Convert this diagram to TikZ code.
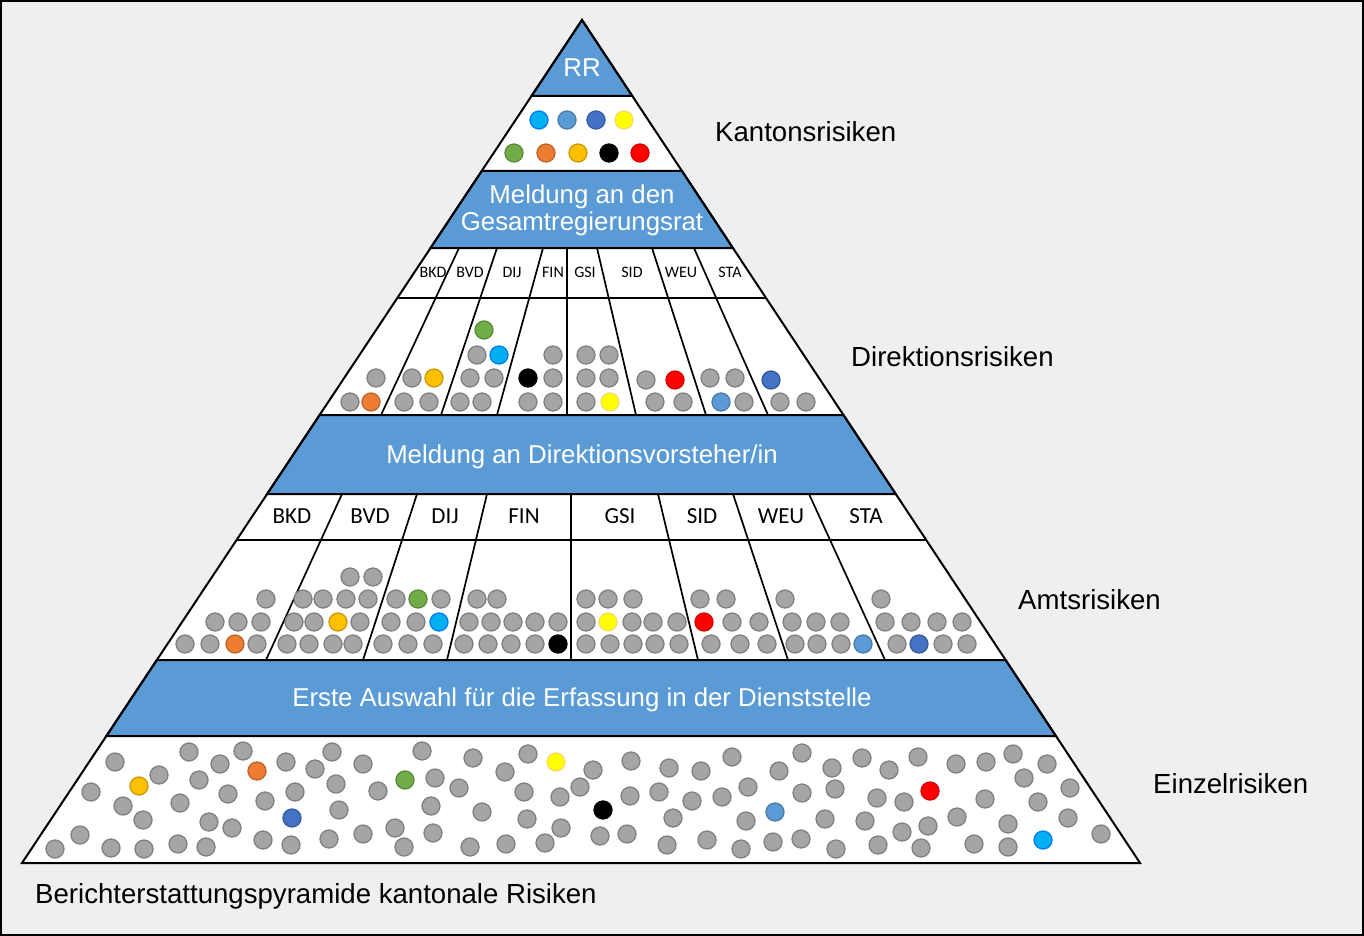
\documentclass[tikz,border=0pt]{standalone}
\usepackage{fontspec}
\setmainfont{Liberation Sans}
\newfontfamily\calibri{Carlito}
\definecolor{bandblue}{HTML}{5B9BD5}
\definecolor{bggray}{RGB}{238,239,241}
\definecolor{dotgray}{HTML}{A5A5A5}
\definecolor{dcyan}{HTML}{00B0F0}
\definecolor{dlblue}{HTML}{5B9BD5}
\definecolor{dblue}{HTML}{4472C4}
\definecolor{dyellow}{HTML}{FFFF00}
\definecolor{dgreen}{HTML}{70AD47}
\definecolor{dorange}{HTML}{ED7D31}
\definecolor{dgold}{HTML}{FFC000}
\definecolor{dblack}{HTML}{000000}
\definecolor{dred}{HTML}{FF0000}
\colorlet{dotgrayline}{dotgray!78!black}
\colorlet{dcyanline}{dcyan!70!blue}
\colorlet{dlblueline}{dlblue!80!black}
\colorlet{dblueline}{dblue!80!black}
\colorlet{dyellowline}{dgold!60!white}
\colorlet{dgreenline}{dgreen!80!black}
\colorlet{dorangeline}{dorange!80!black}
\colorlet{dgoldline}{dgold!80!black}
\colorlet{dblackline}{black}
\colorlet{dredline}{dred!85!black}
\tikzset{
  band/.style={fill=bandblue,draw=black,line width=2pt},
  divider/.style={line width=1.7pt},
  bandtext/.style={text=white,font=\fontsize{25.8}{27}\selectfont,align=center,inner sep=0pt},
  sidetext/.style={anchor=base west,inner sep=0pt,font=\fontsize{27.6}{30}\selectfont},
  smalltag/.style={anchor=base,inner sep=0pt,font=\calibri\fontsize{16}{18}\selectfont},
  bigtag/.style={anchor=base,inner sep=0pt,font=\calibri\fontsize{23}{25}\selectfont},
  risk/.style={fill=#1,draw=#1line,line width=1.3pt},
  risk/.default=dotgray
}
\begin{document}
\begin{tikzpicture}[x=1pt,y=-1pt]
\useasboundingbox (0,0) rectangle (1364,936);
\draw[line width=2pt,fill=bggray](1,1) rectangle (1363,935);
%pyramid
\coordinate (apex) at (582,20);
\coordinate (bl) at (22,863);
\coordinate (br) at (1140,863);
\fill[white](apex)--(br)--(bl)--cycle;
%bands
\draw[band](apex)--(632.3,96)--(531.5,96)--cycle;
\draw[band](481.7,171)--(682,171)--(732.9,248)--(430.5,248)--cycle;
\draw[band](319.6,415)--(843.5,415)--(895.7,494)--(267.1,494)--cycle;
\draw[band](156.8,660)--(1005.6,660)--(1055.9,736)--(106.4,736)--cycle;
\draw[divider](397.3,298)--(766,298);
\draw[divider](236.6,540)--(926.2,540);
%dividers
\foreach \a/\b in {459/381,497/441,543/497,567/567,597/636,652/706,694/768}{
\draw[divider](\a,248)--(\b,415);
}
\foreach \a/\b in {342/266,417/363,487/447,571/571,658/698,733/788,809/885}{
\draw[divider](\a,494)--(\b,660);
}
\draw[line width=2pt](apex)--(br)--(bl)--cycle;
%dots Kanton
\foreach \x/\y/\c in {539/120/dcyan,567/120/dlblue,596/120/dblue,624/120/dyellow,
514/153/dgreen,546/153/dorange,578/153/dgold,609/153/dblack,640/153/dred}{
\filldraw[risk=\c](\x,\y) circle[radius=9pt];
}
%dots Direktion
\foreach \x/\y in {376/378,350/402,412/378,404/402,429/402,
477/355,470/378,494/378,460/402,482/402,553/355,553/378,528/402,553/402,
586/355,609/355,586/378,609/378,586/402,646/380,655/402,683/402,
710/378,735/378,744/402,780/402,806/402}{
\filldraw[risk](\x,\y) circle[radius=9pt];
}
\foreach \x/\y/\c in {371/402/dorange,434/378/dgold,484/330/dgreen,499/355/dcyan,
528/378/dblack,610/402/dyellow,675/380/dred,721/402/dlblue,771/380/dblue}{
\filldraw[risk=\c](\x,\y) circle[radius=9pt];
}
%dots Amt
\foreach \x/\y in {266/599,215/622,238/622,261/622,185/644,210/644,257/644,
350/577,373/577,303/599,323/599,346/599,368/599,294/622,314/622,360/622,
287/644,309/644,333/644,353/644,
396/599,441/599,391/622,416/622,383/644,408/644,433/644,
477/599,497/599,469/622,491/622,513/622,535/622,558/622,464/644,488/644,511/644,535/644,
586/599,608/599,633/599,586/622,632/622,653/622,677/622,586/644,610/644,633/644,655/644,679/644,
700/599,726/599,732/622,759/622,711/644,740/644,767/644,
785/599,792/622,816/622,840/622,795/644,817/644,841/644,
881/599,885/622,911/622,937/622,962/622,897/644,943/644,967/644}{
\filldraw[risk](\x,\y) circle[radius=9pt];
}
\foreach \x/\y/\c in {235/644/dorange,338/622/dgold,418/599/dgreen,439/622/dcyan,
558/644/dblack,608/622/dyellow,704/622/dred,863/644/dlblue,919/644/dblue}{
\filldraw[risk=\c](\x,\y) circle[radius=9pt];
}
%dots Einzel
\foreach \x/\y in {115/762,91/792,159/775,123/806,143/820,80/835,55/849,111/848,144/849,
189/752,199/780,180/803,209/822,178/844,206/847,220/764,243/751,228/794,232/828,265/801,
286/762,295/792,263/840,291/845,315/769,332/752,336/784,339/810,329/839,
363/764,378/791,363/834,395/828,404/847,422/751,435/778,459/788,431/806,433/833,
473/758,482/812,470/847,505/772,528/754,524/792,527/819,506/844,545/843,
560/797,561/828,580/787,593/770,600/836,627/834,631/761,630/796,659/792,669/768,673/818,667/845,
692/801,701/771,707/840,722/797,732/757,748/787,746/821,741/849,
779/771,773/842,801/839,802/753,802/793,832/768,835/789,825/819,836/849,
862/758,877/798,865/821,878/845,889/770,904/802,902/832,918/757,928/826,921/848,
956/764,957/817,974/844,986/762,985/799,1008/824,1008/847,
1013/754,1024/778,1038/802,1047/764,1070/788,1068/818,1101/834}{
\filldraw[risk](\x,\y) circle[radius=9pt];
}
\foreach \x/\y/\c in {139/786/dgold,257/771/dorange,292/818/dblue,405/780/dgreen,
556/762/dyellow,603/810/dblack,775/812/dlblue,930/791/dred,1043/840/dcyan}{
\filldraw[risk=\c](\x,\y) circle[radius=9pt];
}
%labels
\node[bandtext,anchor=base](rr)at(582,77){RR};
\node[bandtext](gesamt)at(582,210){Meldung an den\\Gesamtregierungsrat};
\node[bandtext,anchor=base](vorsteher)at(582,463){Meldung an Direktionsvorsteher/in};
\node[bandtext,anchor=base](auswahl)at(582,706){Erste Auswahl f\"ur die Erfassung in der Dienststelle};
\foreach \n/\x in {BKD/433,BVD/470,DIJ/512,FIN/553,GSI/585,SID/632,WEU/681,STA/730}{
\node[smalltag](dir-\n)at(\x,277){\n};
}
\foreach \n/\x in {BKD/292,BVD/370,DIJ/445,FIN/524,GSI/620,SID/702,WEU/781,STA/866}{
\node[bigtag](amt-\n)at(\x,523){\n};
}
\node[sidetext](kanton)at(715,142){Kantonsrisiken};
\node[sidetext](direktion)at(851,366){Direktionsrisiken};
\node[sidetext](amt)at(1018,609){Amtsrisiken};
\node[sidetext](einzel)at(1153,793){Einzelrisiken};
\node[sidetext](caption)at(35,903){Berichterstattungspyramide kantonale Risiken};
\end{tikzpicture}
\end{document}
